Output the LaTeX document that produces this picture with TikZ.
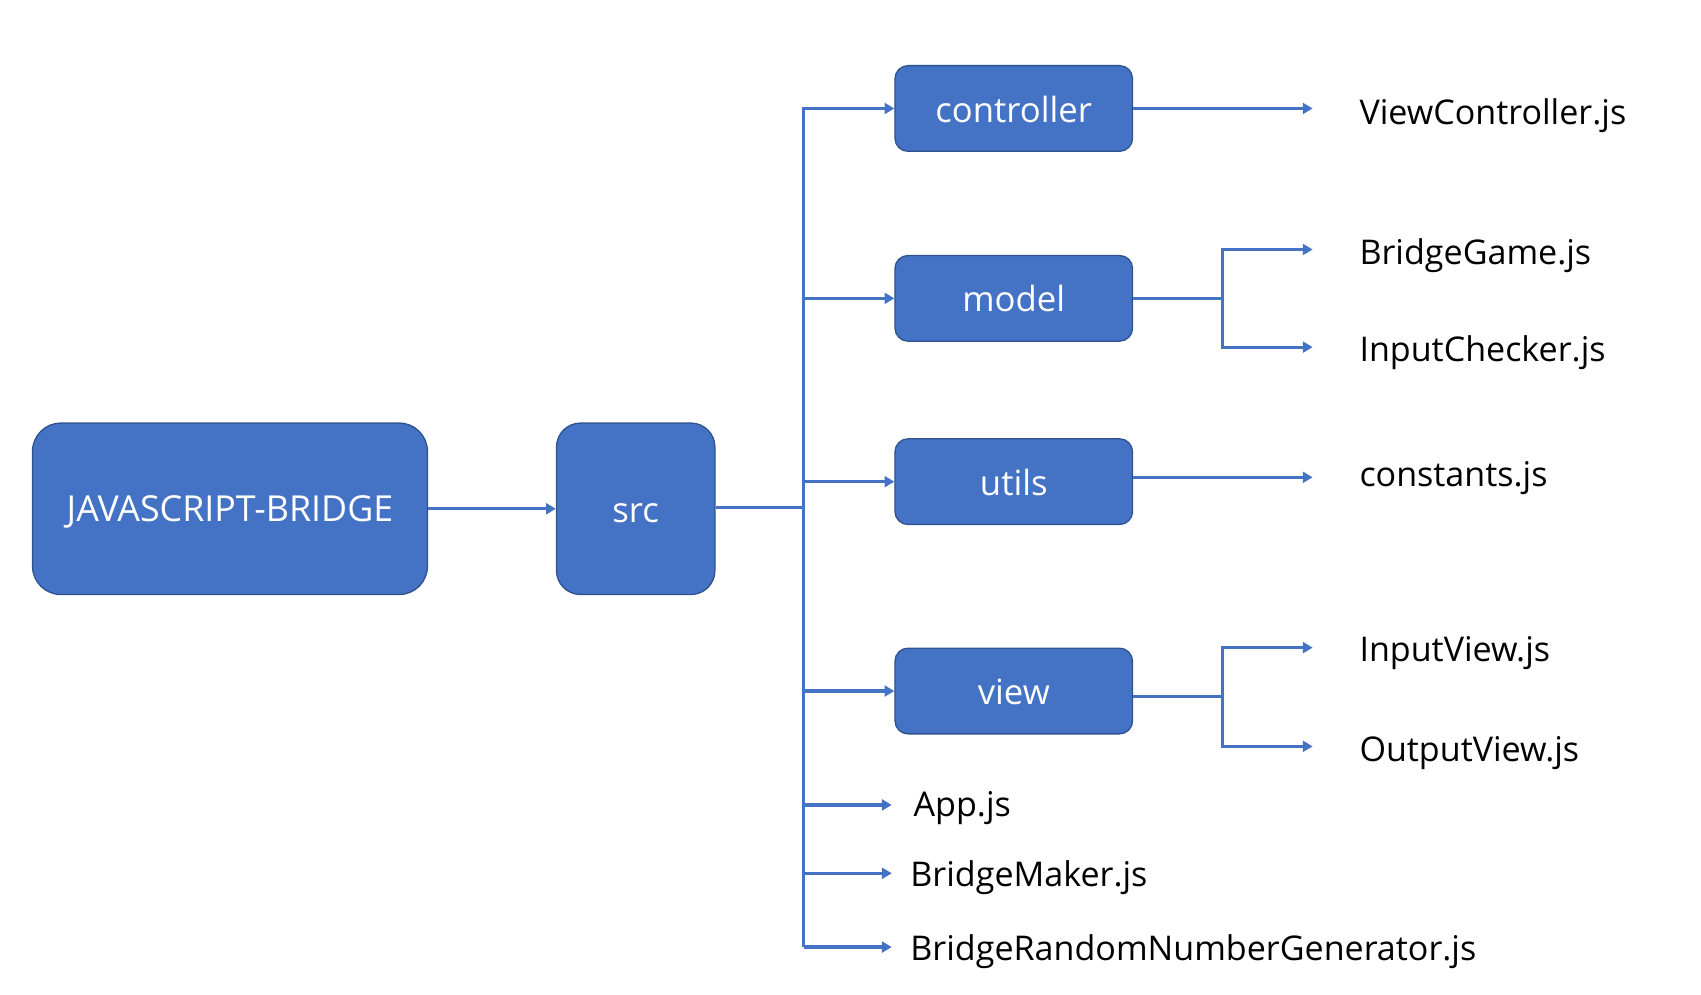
\documentclass[tikz,border=0pt]{standalone}
\usepackage{fontspec}
\setmainfont{Open Sans}
\usetikzlibrary{arrows.meta}
\definecolor{boxblue}{HTML}{4472C4}
\definecolor{boxedge}{HTML}{2F528F}
\begin{document}
\begin{tikzpicture}[x=1pt,y=-1pt,
  box/.style={draw=boxedge, line width=1.2pt, fill=boxblue, text=white,
    font=\fontsize{32}{38}\selectfont, rounded corners=12pt, inner sep=0pt,
    text height=25pt, text depth=0pt},
  conn/.style={draw=boxblue, line width=2.9pt},
  arr/.style={conn, -{Triangle[length=9pt,width=10pt]}},
  file/.style={font=\fontsize{31.4}{36}\selectfont, anchor=base west, inner sep=0pt, text=black}]
\useasboundingbox (0,0) rectangle (1568,917);
% boxes
\node[box, minimum width=364pt, minimum height=158pt, rounded corners=26pt, font=\fontsize{33}{38}\selectfont, text height=24pt] (root) at (212,469) {JAVASCRIPT-BRIDGE};
\node[box, minimum width=146pt, minimum height=158pt, rounded corners=22pt] (src) at (586,469) {src};
\node[box, minimum width=219pt, minimum height=79pt] (controller) at (934.5,100) {controller};
\node[box, minimum width=219pt, minimum height=79pt] (model) at (934.5,275) {model};
\node[box, minimum width=219pt, minimum height=79pt] (utils) at (934.5,444) {utils};
\node[box, minimum width=219pt, minimum height=79pt] (view) at (934.5,637) {view};
% file labels
\node[file] (vc) at (1253,115) {ViewController.js};
\node[file] (bg) at (1253,244) {BridgeGame.js};
\node[file] (ic) at (1253,333) {InputChecker.js};
\node[file] (co) at (1253,448) {constants.js};
\node[file] (iv) at (1253,610) {InputView.js};
\node[file] (ov) at (1253,702) {OutputView.js};
\node[file] (app) at (842,753) {App.js};
\node[file] (bm) at (839,817) {BridgeMaker.js};
\node[file] (brng) at (839,885) {BridgeRandomNumberGenerator.js};
% coordinates
\coordinate (tTop) at (741,100);
\coordinate (tMid) at (741,468);
\coordinate (tBot) at (741,873);
\coordinate (aApp) at (822,742);
\coordinate (aBm) at (822,805);
\coordinate (aBrng) at (822,873);
\coordinate (eVc) at (1210,100);
\coordinate (mSplit) at (1127,275);
\coordinate (eBg) at (1210,230);
\coordinate (eIc) at (1210,320);
\coordinate (eCo) at (1210,440);
\coordinate (vSplit) at (1127,642);
\coordinate (eIv) at (1210,597);
\coordinate (eOv) at (1210,688);
% connectors
\draw[arr] (root.east) -- (src.west);
\draw[conn] (src.east |- tMid) -- (tMid);
\draw[arr] (tBot) -- (tTop) -- (controller.west);
\draw[arr] (model.west -| tTop) -- (model.west);
\draw[arr] (utils.west -| tTop) -- (utils.west);
\draw[arr] (view.west -| tTop) -- (view.west);
\draw[arr] (aApp -| tTop) -- (aApp);
\draw[arr] (aBm -| tTop) -- (aBm);
\draw[arr] (tBot) -- (aBrng);
\draw[arr] (controller.east) -- (eVc);
\draw[conn] (model.east) -- (mSplit);
\draw[arr] (mSplit) |- (eBg);
\draw[arr] (mSplit) |- (eIc);
\draw[arr] (utils.east |- eCo) -- (eCo);
\draw[conn] (view.east |- vSplit) -- (vSplit);
\draw[arr] (vSplit) |- (eIv);
\draw[arr] (vSplit) |- (eOv);
\end{tikzpicture}
\end{document}
